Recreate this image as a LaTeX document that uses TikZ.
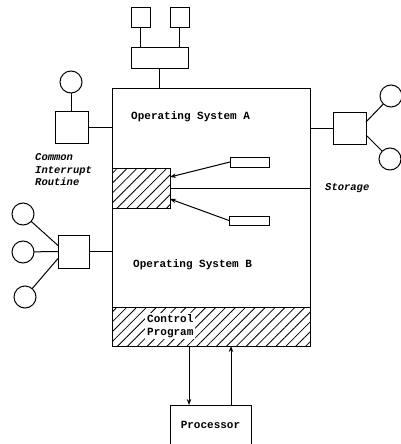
\documentclass[tikz,border=0pt]{standalone}
\usepackage{fontspec}
\setmonofont{Liberation Mono}
\usetikzlibrary{arrows.meta,patterns.meta}

\tikzset{
  box/.style={draw, line width=1pt, inner sep=0pt, outer sep=0pt, rectangle},
  dev/.style={circle, draw, line width=1pt, inner sep=0pt, outer sep=0pt, minimum size=22pt},
  hatch/.style={pattern={Lines[angle=45,distance=7pt,line width=0.8pt]}},
  wire/.style={line width=1pt},
  arr/.style={line width=1pt, -{Stealth[length=6pt,width=4.5pt]}},
  lbl/.style={font=\ttfamily\bfseries\fontsize{11}{13}\selectfont, inner sep=0pt},
  ilbl/.style={font=\ttfamily\bfseries\itshape\fontsize{10.5}{12.5}\selectfont, inner sep=0pt, align=left},
}

\begin{document}
\begin{tikzpicture}[x=1pt,y=-1pt]
\useasboundingbox (0,0) rectangle (401,444);

% main storage frame
\node[box, minimum width=198pt, minimum height=258pt] (main) at (211,217) {};
% control program band: hatching, cleared label, then outline
\node[inner sep=0pt, outer sep=0pt, hatch, minimum width=198pt, minimum height=39pt] (cp) at (211,326.5) {};
\node[lbl, anchor=west, align=left, fill=white, inner xsep=2pt, inner ysep=1pt] (cptext) at (145,326) {Control\\Program};
\draw[wire] (cp.north west) rectangle (cp.south east);
% shared interrupt routine area
\node[box, hatch, minimum width=58pt, minimum height=40pt] (hb) at (141,188) {};

% system labels
\node[lbl, anchor=west] (osa) at (131,117) {Operating System A};
\node[lbl, anchor=west] (osb) at (133,265) {Operating System B};

% partition boundary
\draw[wire] (hb.east) -- (hb.east -| main.east);

% pointers to the common routine
\node[box, minimum width=39pt, minimum height=10pt] (r1) at (249.5,162) {};
\node[box, minimum width=40pt, minimum height=9pt] (r2) at (249,220.5) {};
\draw[arr] (r1.west) -- ([yshift=11pt]hb.east);
\draw[arr] (r2.west) -- ([yshift=-11pt]hb.east);

% top channel with two devices
\node[box, minimum width=19pt, minimum height=20pt] (t1) at (140.5,18) {};
\node[box, minimum width=19pt, minimum height=20pt] (t2) at (179.5,18) {};
\node[box, minimum width=57pt, minimum height=20pt] (mid) at (159.5,58) {};
\draw[wire] (t1.south) -- (t1.south |- mid.north);
\draw[wire] (t2.south) -- (t2.south |- mid.north);
\draw[wire] (mid.south) -- (mid.south |- main.north);

% upper left controller
\node[dev] (c0) at (71,82) {};
\node[box, minimum width=33pt, minimum height=32pt] (sqA) at (71.5,127) {};
\draw[wire] (c0.south) -- (c0.south |- sqA.north);
\draw[wire] (sqA.east) -- (sqA.east -| main.west);
\node[ilbl, anchor=west] (cir) at (35,170) {Common\\Interrupt\\Routine};

% lower left controller with three devices
\node[box, minimum width=31pt, minimum height=33pt] (sqB) at (73.5,251.5) {};
\node[dev] (b1) at (23,214) {};
\node[dev] (b2) at (23,252) {};
\node[dev] (b3) at (25,297) {};
\draw[wire] (b1) -- ([yshift=6pt]sqB.west);
\draw[wire] (b2) -- (sqB.west);
\draw[wire] (b3) -- ([yshift=-7pt]sqB.west);
\draw[wire] (sqB.east) -- (sqB.east -| main.west);

% right controller with two devices
\node[box, minimum width=33pt, minimum height=32pt] (sqS) at (349.5,128) {};
\node[dev] (s1) at (391,96) {};
\node[dev] (s2) at (390,159) {};
\draw[wire] ([yshift=6pt]sqS.east) -- (s1);
\draw[wire] ([yshift=-7pt]sqS.east) -- (s2);
\draw[wire] (sqS.west) -- (sqS.west -| main.east);
\node[ilbl, anchor=west] (stor) at (325,188) {Storage};

% processor
\node[inner sep=0pt, outer sep=0pt, minimum width=81pt, minimum height=39pt] (proc) at (210.5,424.5) {};
\draw[wire] (proc.south west) -- (proc.north west) -- (proc.north east) -- (proc.south east);
\node[lbl] (ptext) at (proc.center) {Processor};
\coordinate (pdown) at ([xshift=19pt]proc.north west);
\coordinate (pup) at ([xshift=-20pt]proc.north east);
\draw[arr] (pdown |- cp.south) -- (pdown);
\draw[arr] (pup) -- (pup |- cp.south);
\end{tikzpicture}
\end{document}
